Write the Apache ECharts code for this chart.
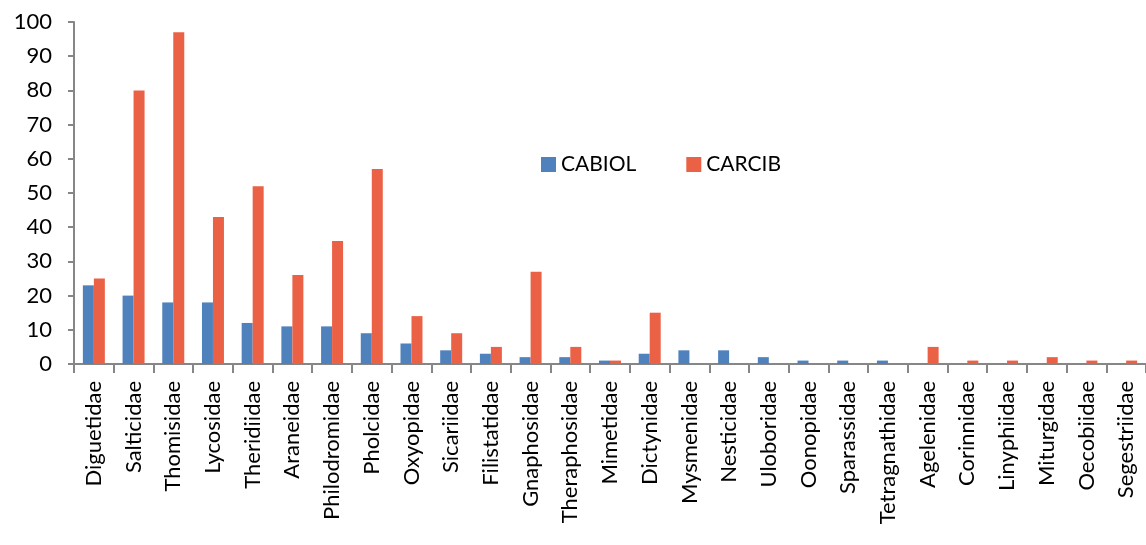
<!DOCTYPE html>
<html>
<head>
<meta charset="utf-8">
<script src="https://cdn.jsdelivr.net/npm/echarts@6/dist/echarts.min.js"></script>
<style>
  html, body { margin: 0; padding: 0; background: #ffffff; }
  #chart { width: 1146px; height: 545px; }
</style>
</head>
<body>
<div id="chart"></div>
<script>
// Spider families and counts recorded per site
const families = [
  'Diguetidae', 'Salticidae', 'Thomisidae', 'Lycosidae', 'Theridiidae',
  'Araneidae', 'Philodromidae', 'Pholcidae', 'Oxyopidae', 'Sicariidae',
  'Filistatidae', 'Gnaphosidae', 'Theraphosidae', 'Mimetidae', 'Dictynidae',
  'Mysmenidae', 'Nesticidae', 'Uloboridae', 'Oonopidae', 'Sparassidae',
  'Tetragnathidae', 'Agelenidae', 'Corinnidae', 'Linyphiidae', 'Miturgidae',
  'Oecobiidae', 'Segestriidae'
];
const cabiol = [23, 20, 18, 18, 12, 11, 11, 9, 6, 4, 3, 2, 2, 1, 3, 4, 4, 2, 1, 1, 1, 0, 0, 0, 0, 0, 0];
const carcib = [25, 80, 97, 43, 52, 26, 36, 57, 14, 9, 5, 27, 5, 1, 15, 0, 0, 0, 0, 0, 0, 5, 1, 1, 2, 1, 1];
const seriesNames = ['CABIOL', 'CARCIB'];

const FONT = 'Lato, "Open Sans", sans-serif';
const AXIS_GREY = '#868686';

const chart = echarts.init(document.getElementById('chart'));
chart.setOption({
  animation: false,
  textStyle: { fontFamily: FONT },
  color: ['#4F81BD', '#EB6146'],
  legend: {
    data: seriesNames,
    left: 536,
    top: 149,
    itemWidth: 15,
    itemHeight: 15,
    itemGap: 50,
    icon: 'rect',
    textStyle: { fontSize: 21, color: '#000', fontFamily: FONT }
  },
  grid: { left: 74, right: 0, top: 22, bottom: 181, containLabel: false },
  xAxis: {
    type: 'category',
    data: families,
    axisLine: { lineStyle: { color: AXIS_GREY, width: 2 } },
    axisTick: { show: true, length: 9, lineStyle: { color: AXIS_GREY, width: 2 } },
    axisLabel: {
      rotate: 90,
      interval: 0,
      margin: 17,
      fontSize: 22,
      color: '#000',
      fontFamily: FONT
    }
  },
  yAxis: {
    type: 'value',
    min: 0,
    max: 100,
    interval: 10,
    splitLine: { show: false },
    axisLine: { show: true, lineStyle: { color: AXIS_GREY, width: 2 } },
    axisTick: { show: true, length: 6, lineStyle: { color: AXIS_GREY, width: 2 } },
    axisLabel: { fontSize: 22, color: '#000', margin: 22, fontFamily: FONT }
  },
  series: [
    { name: seriesNames[0], type: 'bar', data: cabiol, barWidth: 11, barGap: '0%' },
    { name: seriesNames[1], type: 'bar', data: carcib, barWidth: 11, barGap: '0%' }
  ]
});
</script>
</body>
</html>
